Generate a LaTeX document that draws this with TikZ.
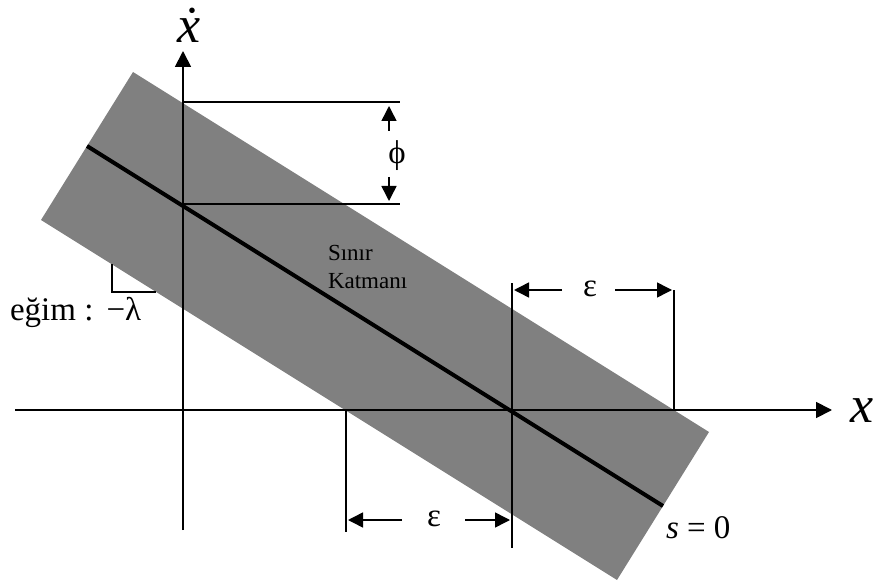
\documentclass[tikz,border=0pt]{standalone}
\usepackage{fontspec}
\setmainfont{Liberation Serif}
\usetikzlibrary{arrows.meta}
\definecolor{bandgray}{RGB}{128,128,128}
\begin{document}
\begin{tikzpicture}[x=1pt,y=-1pt,
  axisline/.style={line width=1.8pt,-{Triangle[length=16pt,width=16pt]}},
  guide/.style={line width=1.5pt},
  dimarrow/.style={line width=1.5pt,-{Triangle[length=15pt,width=15pt]}},
  lbl/.style={inner sep=0pt,outer sep=0pt},
  big/.style={lbl,font=\fontsize{52}{56}\selectfont\itshape},
  sym/.style={lbl,font=\fontsize{33}{36}\selectfont},
  small/.style={lbl,font=\fontsize{23}{28}\selectfont}]
\useasboundingbox (0,0) rectangle (880,585);
% band
\coordinate (A) at (133,72);
\coordinate (B) at (709,432);
\coordinate (C) at (617,580);
\coordinate (D) at (41,220);
\fill[bandgray] (A) -- (B) -- (C) -- (D) -- cycle;
% guide lines
\coordinate (h1a) at (183,102); \coordinate (h1b) at (400,102);
\coordinate (h2a) at (183,204); \coordinate (h2b) at (400,204);
\draw[guide] (h1a) -- (h1b);
\draw[guide] (h2a) -- (h2b);
\coordinate (v1a) at (512,283); \coordinate (v1b) at (512,548);
\coordinate (v2a) at (674,290); \coordinate (v2b) at (674,410);
\coordinate (v3a) at (346,410); \coordinate (v3b) at (346,532);
\draw[guide] (v1a) -- (v1b);
\draw[guide] (v2a) -- (v2b);
\draw[guide] (v3a) -- (v3b);
% slope marker
\coordinate (s1) at (112,264); \coordinate (s2) at (112,292); \coordinate (s3) at (156,292);
\draw[line width=1.2pt] (s1) -- (s2) -- (s3);
% axes
\coordinate (xl) at (15,410); \coordinate (xr) at (832,410);
\coordinate (yb) at (183,530); \coordinate (yt) at (183,51);
\draw[axisline] (xl) -- (xr);
\draw[axisline] (yb) -- (yt);
% sliding line
\coordinate (c1) at (87,146); \coordinate (c2) at (663,506);
\draw[line width=4pt] (c1) -- (c2);
% phi arrows
\coordinate (p1) at (389,131); \coordinate (p1t) at (389,106);
\coordinate (p2) at (389,177); \coordinate (p2t) at (389,201);
\draw[dimarrow] (p1) -- (p1t);
\draw[dimarrow] (p2) -- (p2t);
\node[sym] (phi) at (397,156) {ϕ};
% epsilon top
\coordinate (e1) at (562,290); \coordinate (e1t) at (514,290);
\coordinate (e2) at (615,290); \coordinate (e2t) at (672,290);
\draw[dimarrow] (e1) -- (e1t);
\draw[dimarrow] (e2) -- (e2t);
\node[sym] (epstop) at (590,289) {ε};
% epsilon bottom
\coordinate (f1) at (402,520); \coordinate (f1t) at (348,520);
\coordinate (f2) at (465,520); \coordinate (f2t) at (510,520);
\draw[dimarrow] (f1) -- (f1t);
\draw[dimarrow] (f2) -- (f2t);
\node[sym] (epsbot) at (434,519) {ε};
% labels
\node[big,anchor=base] (xdot) at (189,43) {\accent"02D9 x};
\node[big,anchor=base] (xlab) at (862,422) {x};
\node[sym,anchor=base west] (szero) at (666,538) {\textit{s} = 0};
\node[sym,anchor=base west] (egim) at (10,320) {eğim :\hspace{0.4em}−λ};
\node[small,anchor=base west] (sinir) at (328,260) {Sınır};
\node[small,anchor=base west] (katman) at (328,288) {Katmanı};
\end{tikzpicture}
\end{document}
